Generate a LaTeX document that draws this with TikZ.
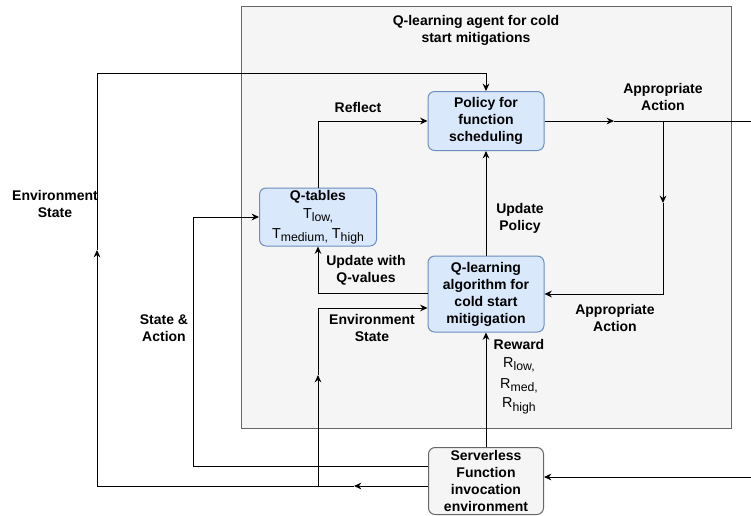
\documentclass[tikz,border=0pt]{standalone}
\usepackage{fontspec}
\setmainfont{Liberation Sans}
\usetikzlibrary{arrows.meta}
\definecolor{blueFill}{HTML}{DAE8FC}
\definecolor{blueLine}{HTML}{6C8EBF}
\definecolor{grayFill}{HTML}{F5F5F5}
\definecolor{grayLine}{HTML}{666666}
\newcommand{\lowtext}[1]{\raisebox{-0.45ex}{\fontsize{9.2}{9.2}\selectfont #1}}

\begin{document}
\begin{tikzpicture}[x=0.75pt,y=-0.75pt,line width=0.75pt,font=\fontsize{10.5}{12.75}\selectfont\bfseries]
\tikzstyle{agent}=[draw=grayLine,fill=grayFill,minimum width=367.5pt,minimum height=316.5pt]
\tikzstyle{step box}=[draw=blueLine,fill=blueFill,rounded corners=5pt,align=center,inner sep=1pt,minimum width=87pt]
\tikzstyle{env box}=[draw=grayLine,fill=grayFill,rounded corners=5pt,align=center,inner sep=0pt,minimum width=86.25pt,minimum height=50.25pt]
\tikzstyle{lbl}=[align=center,inner sep=0pt]
\tikzstyle{plain}=[lbl,font=\fontsize{10.8}{12.75}\selectfont]
\tikzstyle{arr}=[-{Stealth[length=5.5pt,width=5pt]}]
\useasboundingbox (0,0) rectangle (751,515);
\node[agent] (agent) at (486,217) {};
\node[lbl] (title) at (476,30) {Q-learning agent for cold\\start mitigations};
\node[step box,minimum height=44.25pt] (pol) at (486,121) {Policy for\\function\\scheduling};
\node[step box,minimum height=57pt] (qla) at (486,294) {Q-learning\\algorithm for\\cold start\\mitigigation};
\node[step box,minimum width=87.75pt,minimum height=43.5pt] (qt) at (318,217) {Q-tables\\[1pt]\mdseries\fontsize{10.8}{12.75}\selectfont T\lowtext{low,}\\[2pt]\mdseries\fontsize{10.8}{12.75}\selectfont T\lowtext{medium,} T\lowtext{high}};
\node[env box] (srv) at (486,481) {Serverless\\Function\\invocation\\environment};
\coordinate (esM) at (354,486);
\coordinate (esL) at (97,486);
\coordinate (esU) at (97,250);
\coordinate (esT) at (97,73);
\coordinate (ie0) at (318,486);
\coordinate (ie1) at (318,375);
\coordinate (ie2) at (318,308);
\coordinate (sa0) at (193,466);
\coordinate (uq) at (318,293);
\coordinate (aa0) at (614,121);
\coordinate (aa1) at (663,121);
\coordinate (aa2) at (663,203);
\coordinate (aout) at (751,121);
\coordinate (inR) at (751,477);
\draw[arr] (srv.west |- esM) -- (esM);
\draw[arr] (esM) -- (esL) -- (esU);
\draw[arr] (esU) -- (esT) -| (pol.north);
\draw[arr] (ie0) -- (ie1);
\draw[arr] (ie1) -- (ie2) -- (qla.west |- ie2);
\draw[arr] (srv.west |- sa0) -- (sa0) |- (qt.west);
\draw[arr] (qt.north) |- (pol.west);
\draw[arr] (pol.east) -- (aa0);
\draw (aa0) -- (aout);
\draw[arr] (aa1) -- (aa2);
\draw[arr] (aa2) |- (qla.east);
\draw[arr] (qla) -- (pol);
\draw[arr] (qla.west |- uq) -- (uq) -- (qt.south);
\draw[arr] (srv) -- (qla);
\draw[arr] (inR) -- (srv.east |- inR);
\node[lbl] (lEnvOut) at (55,204) {Environment\\State};
\node[lbl] (lReflect) at (358,107) {Reflect};
\node[lbl] (lActOut) at (663,97) {Appropriate\\Action};
\node[lbl] (lUpdPol) at (520,218) {Update\\Policy};
\node[lbl] (lUpdQ) at (366,270) {Update with\\Q-values};
\node[lbl] (lActIn) at (615,318) {Appropriate\\Action};
\node[lbl] (lStAct) at (164,328) {State \&\\Action};
\node[lbl] (lEnvIn) at (372,328) {Environment\\State};
\node[lbl] (lReward) at (519,344) {Reward};
\node[plain] (rLow) at (519,365) {R\lowtext{low,}};
\node[plain] (rMed) at (519,386) {R\lowtext{med,}};
\node[plain] (rHigh) at (519,406) {R\lowtext{high}};
\end{tikzpicture}
\end{document}
